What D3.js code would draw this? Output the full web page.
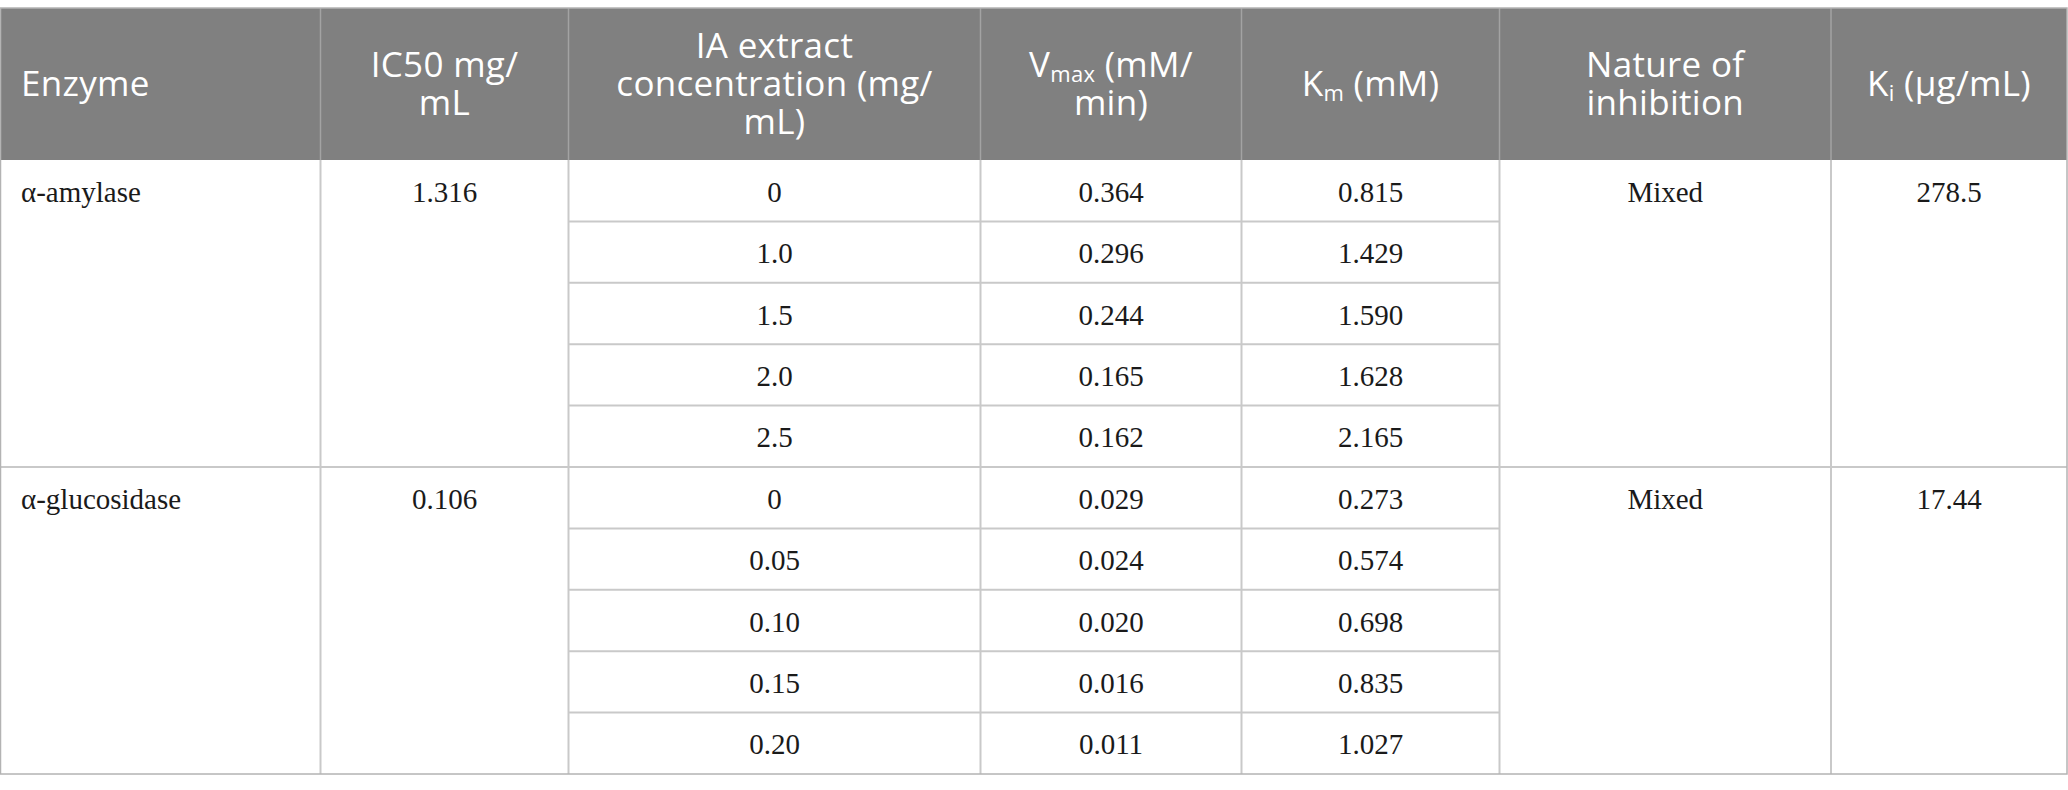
<!DOCTYPE html>
<html>
<head>
<meta charset="utf-8">
<script src="https://cdn.jsdelivr.net/npm/d3@7"></script>
<style>
  html, body { margin: 0; padding: 0; background: #fff; }
  svg { display: block; }
</style>
</head>
<body>
<div id="table"></div>
<script>
// header lines, each line is a list of [text, isSubscript] pieces
var headers = [
  [[["Enzyme", false]]],
  [[["IC50 mg/", false]], [["mL", false]]],
  [[["IA extract", false]], [["concentration (mg/", false]], [["mL)", false]]],
  [[["V", false], ["max", true], [" (mM/", false]], [["min)", false]]],
  [[["K", false], ["m", true], [" (mM)", false]]],
  [[["Nature of", false]], [["inhibition", false]]],
  [[["K", false], ["i", true], [" (\u00b5g/mL)", false]]]
];

var enzymes = ["\u03b1-amylase", "\u03b1-glucosidase"];
var ic50 = ["1.316", "0.106"];
var concentrations = [
  ["0", "1.0", "1.5", "2.0", "2.5"],
  ["0", "0.05", "0.10", "0.15", "0.20"]
];
var vmax = [
  ["0.364", "0.296", "0.244", "0.165", "0.162"],
  ["0.029", "0.024", "0.020", "0.016", "0.011"]
];
var km = [
  ["0.815", "1.429", "1.590", "1.628", "2.165"],
  ["0.273", "0.574", "0.698", "0.835", "1.027"]
];
var nature = ["Mixed", "Mixed"];
var ki = ["278.5", "17.44"];

var width = 2068,
    height = 790,
    headTop = 8,
    headBottom = 160,
    tableBottom = 774,
    colEdges = [0.5, 320.5, 568.5, 980.5, 1241.5, 1499.5, 1831, 2067],
    subRows = 5,
    headColor = "#808080",
    lineColor = "#c9c9c9",
    headLine = "#a3a3a3",
    sansFont = "'Open Sans', 'Noto Sans', sans-serif",
    serifFont = "'Liberation Serif', 'DejaVu Serif', serif";

var totalRows = enzymes.length * subRows;
var y = d3.scaleLinear().domain([0, totalRows]).range([headBottom, tableBottom]);
var x = d3.scaleLinear().domain(d3.range(colEdges.length)).range(colEdges);

var colCenter = function(c) { return (x(c) + x(c + 1)) / 2; };

var svg = d3.select("#table").append("svg")
    .attr("width", width).attr("height", height);

// header background
svg.append("rect")
    .attr("x", x(0)).attr("y", headTop)
    .attr("width", x(colEdges.length - 1) - x(0)).attr("height", headBottom - headTop)
    .attr("fill", headColor);

// header column separators
svg.selectAll("line.hsep").data(d3.range(1, colEdges.length - 1)).enter().append("line")
    .attr("class", "hsep")
    .attr("x1", function(d) { return x(d); }).attr("x2", function(d) { return x(d); })
    .attr("y1", headTop).attr("y2", headBottom)
    .attr("stroke", headLine).attr("stroke-width", 1.5);

// header text
var headMid = (headTop + headBottom) / 2,
    lineGap = 38;

headers.forEach(function(lines, c) {
    var t = svg.append("text")
        .attr("font-family", sansFont)
        .attr("font-size", 35)
        .attr("letter-spacing", 0.3)
        .attr("fill", "#fff")
        .attr("text-anchor", c === 0 ? "start" : "middle");
    var tx = c === 0 ? 21 : colCenter(c);
    lines.forEach(function(pieces, li) {
        var ly = headMid + (li - (lines.length - 1) / 2) * lineGap + 12;
        pieces.forEach(function(p, pi) {
            var ts = t.append("tspan").text(p[0]);
            if (pi === 0) ts.attr("x", tx).attr("y", ly);
            if (p[1]) ts.attr("font-size", 22).attr("dy", 5);
            else if (pi > 0 && pieces[pi - 1][1]) ts.attr("dy", -5);
        });
    });
});

// body lines: sub-row separators only in the three middle columns
var subLines = [];
enzymes.forEach(function(e, g) {
    for (var r = 1; r < subRows; r++) subLines.push(g * subRows + r);
});

svg.selectAll("line.sub").data(subLines).enter().append("line")
    .attr("class", "sub")
    .attr("x1", x(2)).attr("x2", x(5))
    .attr("y1", function(d) { return y(d); }).attr("y2", function(d) { return y(d); })
    .attr("stroke", lineColor).attr("stroke-width", 2);

// group separators
svg.selectAll("line.grp").data(d3.range(1, enzymes.length)).enter().append("line")
    .attr("class", "grp")
    .attr("x1", x(0)).attr("x2", x(colEdges.length - 1))
    .attr("y1", function(d) { return y(d * subRows); }).attr("y2", function(d) { return y(d * subRows); })
    .attr("stroke", lineColor).attr("stroke-width", 2);

// body vertical lines
svg.selectAll("line.vsep").data(d3.range(1, colEdges.length - 1)).enter().append("line")
    .attr("class", "vsep")
    .attr("x1", function(d) { return x(d); }).attr("x2", function(d) { return x(d); })
    .attr("y1", headBottom).attr("y2", tableBottom)
    .attr("stroke", lineColor).attr("stroke-width", 2);

// outer frame
svg.append("rect")
    .attr("x", x(0)).attr("y", headTop)
    .attr("width", x(colEdges.length - 1) - x(0)).attr("height", tableBottom - headTop)
    .attr("fill", "none").attr("stroke", "#b3b3b3").attr("stroke-width", 1.5);

// body text
var cells = [];
enzymes.forEach(function(e, g) {
    var r0 = g * subRows;
    cells.push({ col: 0, row: r0, text: e, left: true });
    cells.push({ col: 1, row: r0, text: ic50[g] });
    cells.push({ col: 5, row: r0, text: nature[g] });
    cells.push({ col: 6, row: r0, text: ki[g] });
    for (var r = 0; r < subRows; r++) {
        cells.push({ col: 2, row: r0 + r, text: concentrations[g][r] });
        cells.push({ col: 3, row: r0 + r, text: vmax[g][r] });
        cells.push({ col: 4, row: r0 + r, text: km[g][r] });
    }
});

svg.selectAll("text.cell").data(cells).enter().append("text")
    .attr("class", "cell")
    .attr("font-family", serifFont)
    .attr("font-size", 29)
    .attr("fill", "#1a1a1a")
    .attr("text-anchor", function(d) { return d.left ? "start" : "middle"; })
    .attr("x", function(d) { return d.left ? 21 : colCenter(d.col); })
    .attr("y", function(d) { return (y(d.row) + y(d.row + 1)) / 2 + 11; })
    .text(function(d) { return d.text; });
</script>
</body>
</html>
